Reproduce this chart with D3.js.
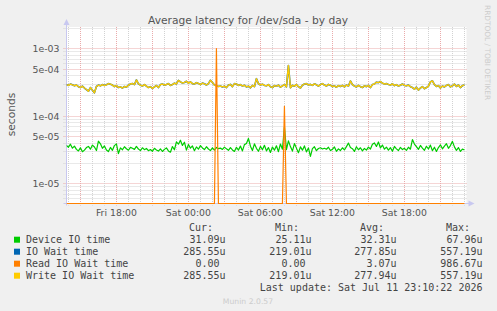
<!DOCTYPE html>
<html>
<head>
<meta charset="utf-8">
<script src="https://cdn.jsdelivr.net/npm/d3@7"></script>
<style>
  body { margin: 0; background: #f0f0f0; }
  svg { display: block; }
</style>
</head>
<body>
<div id="chart"></div>
<script>
/**
 * DATA
 * */
const lastUpdate = new Date(2026, 6, 11, 23, 10, 22);
const firstSample = new Date(2026, 6, 10, 13, 50, 0);
const stepMinutes = 10;

// microseconds, one value per 10 minutes
const deviceIO = [
  36.5, 34.2, 38.0, 33.1, 35.6, 31.8, 30.2, 33.5, 29.4, 31.0,
  33.8, 35.2, 32.0, 36.8, 34.5, 30.6, 42.0, 38.5, 33.0, 35.8,
  31.2, 29.5, 34.0, 30.8, 36.2, 38.4, 27.6, 33.5, 31.4, 34.8,
  32.5, 30.9, 34.1, 33.0, 31.8, 35.2, 32.2, 30.5, 33.6, 31.5,
  32.8, 30.4, 31.6, 29.8, 33.0, 31.2, 30.0, 32.4, 29.6, 31.8,
  33.4, 30.2, 28.9, 35.0, 31.4, 41.2, 38.0, 43.5, 36.4, 40.6,
  31.0, 37.5, 33.2, 35.8, 30.4, 34.6, 32.0, 36.2, 33.4, 31.6,
  34.8, 32.2, 30.5, 33.6, 31.0, 34.0, 32.6, 33.2, 31.8, 34.4,
  32.4, 30.8, 33.8, 31.2, 29.6, 34.2, 31.0, 35.6, 30.2, 37.4,
  39.0, 46.2, 35.5, 30.6, 38.4, 33.0, 29.8, 35.2, 31.4, 36.6,
  30.2, 33.8, 28.6, 34.5, 31.0, 36.0, 29.4, 38.2, 32.0, 67.96,
  31.5, 42.5, 35.0, 30.0, 38.8, 33.2, 28.4, 34.6, 31.0, 35.8,
  29.2, 33.4, 25.11, 32.6, 34.8, 30.4, 32.8, 33.6, 32.2, 33.0,
  32.0, 34.2, 30.6, 31.8, 34.6, 29.8, 32.4, 30.6, 33.6, 31.2,
  35.0, 39.4, 34.0, 32.6, 29.6, 34.8, 31.4, 33.6, 30.2, 32.8,
  31.0, 34.4, 32.2, 37.8, 39.6, 35.2, 41.0, 33.4, 36.8, 32.0,
  34.4, 31.0, 33.8, 29.8, 35.2, 32.4, 30.6, 34.0, 31.6, 33.0,
  30.8, 34.2, 32.0, 44.5, 38.2, 35.0, 31.8, 36.4, 33.2, 30.8,
  35.4, 32.2, 36.8, 30.4, 34.2, 29.6, 33.8, 37.2, 32.4, 35.6,
  38.6, 33.0, 36.2, 41.8, 34.6, 30.8, 33.8, 29.6, 32.2, 31.09
];

const ioWait = [
  290, 282, 295, 288, 279, 286, 270, 262, 275, 258,
  245, 231, 262, 240, 219, 272, 285, 278, 290, 281,
  288, 300, 294, 285, 271, 280, 262, 268, 258, 272,
  266, 284, 296, 301, 290, 340, 298, 284, 276, 290,
  275, 262, 270, 255, 268, 281, 262, 290, 296, 284,
  291, 300, 282, 290, 305, 296, 335, 318, 306, 312,
  325, 304, 318, 300, 296, 310, 302, 290, 305, 298,
  286, 300, 336, 312, 285, 280, 272, 276, 268, 275,
  262, 285, 292, 270, 300, 296, 282, 290, 276, 284,
  268, 275, 260, 282, 270, 355, 300, 286, 294, 282,
  278, 290, 270, 262, 280, 274, 285, 266, 278, 290,
  268, 557.19, 260, 283, 275, 290, 270, 258, 284, 296,
  300, 286, 292, 282, 298, 288, 275, 290, 300, 285,
  276, 292, 284, 270, 278, 265, 280, 272, 282, 268,
  286, 275, 328, 290, 276, 268, 282, 270, 262, 278,
  270, 282, 262, 290, 296, 315, 310, 322, 305, 296,
  300, 292, 285, 298, 280, 290, 276, 284, 296, 282,
  278, 285, 270, 262, 248, 266, 240, 258, 270, 252,
  262, 275, 318, 330, 290, 272, 280, 258, 276, 268,
  282, 290, 268, 278, 295, 272, 286, 262, 280, 285.55
];

// write wait follows IO wait (reads are nearly always zero)
const writeWait = ioWait;

// read IO wait is zero except for these samples: [sample index, microseconds]
const readWaitNonZero = [[75, 986.67], [109, 138]];

const seriesNames = ["Device IO time", "IO Wait time", "Read IO Wait time", "Write IO Wait time"];
const seriesColors = ["#00cc00", "#0066b3", "#ff8000", "#ffcc00"];
const legendCur = ["31.09u", "285.55u", "0.00 ", "285.55u"];
const legendMin = ["25.11u", "219.01u", "0.00 ", "219.01u"];
const legendAvg = ["32.31u", "277.85u", "3.07u", "277.94u"];
const legendMax = ["67.96u", "557.19u", "986.67u", "557.19u"];

/**
 * CONSTANTS
 * */
const width = 497, height = 311;
const plot = { left: 66.5, right: 466.5, top: 27, bottom: 203.5 };

const svg = d3.select("#chart").append("svg")
  .attr("width", width)
  .attr("height", height)
  .style("background", "#f0f0f0");

const x = d3.scaleTime()
  .domain([new Date(+lastUpdate - 120000 * 1000), lastUpdate])
  .range([plot.left, plot.right]);

const y = d3.scaleLog()
  .domain([1e-5, 1e-3])
  .range([183.3, 48.3]);

const timeOf = i => new Date(+firstSample + i * stepMinutes * 60000);
const yOf = v => v <= 0 ? plot.bottom : y(v * 1e-6);

// build read wait series
const readWait = deviceIO.map(() => 0);
readWaitNonZero.forEach(([i, v]) => { readWait[i] = v; });

// plot background
svg.append("rect")
  .attr("x", plot.left).attr("y", plot.top)
  .attr("width", plot.right - plot.left).attr("height", plot.bottom - plot.top)
  .attr("fill", "#ffffff");

const minorColor = "#d2d2d2", majorColor = "#eaaaaa";

// horizontal grid
const hGrid = [];
[1e-6, 1e-5, 1e-4, 1e-3].forEach(d => {
  for (let m = 1; m <= 9; m++) {
    const yy = y(m * d);
    if (yy >= plot.top && yy <= plot.bottom) hGrid.push({ v: m * d, m, exp: Math.round(Math.log10(d)), yy: Math.round(yy) + 0.5 });
  }
});

svg.append("g").selectAll("line")
  .data(hGrid)
  .join("line")
  .attr("x1", plot.left - 3).attr("x2", plot.right)
  .attr("y1", d => d.yy).attr("y2", d => d.yy)
  .attr("stroke", d => (d.m === 1 || d.m === 5) ? majorColor : minorColor)
  .attr("stroke-dasharray", "1,1");

svg.append("g").selectAll("text")
  .data(hGrid.filter(d => d.m === 1 || d.m === 5))
  .join("text")
  .attr("x", 59.5).attr("y", d => d.yy)
  .attr("dy", "0.35em")
  .attr("text-anchor", "end")
  .attr("font-family", "DejaVu Sans")
  .attr("font-size", 9.33)
  .attr("fill", "#555")
  .text(d => `${d.m}e-${String(-d.exp).padStart(2, "0")}`);

// vertical grid
const hours = d3.timeHour.every(1).range(x.domain()[0], x.domain()[1]);
svg.append("g").selectAll("line")
  .data(hours)
  .join("line")
  .attr("x1", d => Math.round(x(d)) + 0.5).attr("x2", d => Math.round(x(d)) + 0.5)
  .attr("y1", plot.top).attr("y2", plot.bottom + 2)
  .attr("stroke", d => d.getHours() % 3 === 0 ? majorColor : minorColor)
  .attr("stroke-dasharray", "1,1");

const fmt = d3.timeFormat("%a %H:%M");
svg.append("g").selectAll("text")
  .data(hours.filter(d => d.getHours() % 6 === 0))
  .join("text")
  .attr("x", d => x(d)).attr("y", 216)
  .attr("text-anchor", "middle")
  .attr("font-family", "DejaVu Sans")
  .attr("font-size", 9.33)
  .attr("fill", "#555")
  .text(d => fmt(d));

// axes
const axisColor = "#c8c8f0";
svg.append("line")
  .attr("x1", plot.left).attr("x2", plot.left)
  .attr("y1", plot.bottom + 2).attr("y2", 22)
  .attr("stroke", axisColor);
svg.append("path")
  .attr("d", `M${plot.left - 3},25 L${plot.left},19 L${plot.left + 3},25 Z`)
  .attr("fill", axisColor);
svg.append("line")
  .attr("x1", plot.left - 3).attr("x2", plot.right + 5)
  .attr("y1", plot.bottom).attr("y2", plot.bottom)
  .attr("stroke", axisColor);
svg.append("path")
  .attr("d", `M${plot.right + 2},${plot.bottom - 3} L${plot.right + 8},${plot.bottom} L${plot.right + 2},${plot.bottom + 3} Z`)
  .attr("fill", axisColor);

// data lines
svg.append("clipPath").attr("id", "clip")
  .append("rect")
  .attr("x", plot.left).attr("y", plot.top)
  .attr("width", plot.right - plot.left).attr("height", plot.bottom - plot.top + 1);

const line = d3.line()
  .x((d, i) => x(timeOf(i)))
  .y(d => yOf(d));

const lines = svg.append("g").attr("clip-path", "url(#clip)");
[
  { data: deviceIO, color: seriesColors[0], w: 1.2 },
  { data: ioWait, color: seriesColors[1], w: 1.6 },
  { data: writeWait, color: seriesColors[3], w: 1.4 },
  { data: readWait, color: seriesColors[2], w: 1.2 }
].forEach(s => {
  lines.append("path")
    .attr("d", line(s.data))
    .attr("fill", "none")
    .attr("stroke", s.color)
    .attr("stroke-width", s.w)
    .attr("stroke-linejoin", "round");
});

// title and labels
svg.append("text")
  .attr("x", 248).attr("y", 24)
  .attr("text-anchor", "middle")
  .attr("font-family", "DejaVu Sans")
  .attr("font-size", 10.67)
  .attr("fill", "#555")
  .text("Average latency for /dev/sda - by day");

svg.append("text")
  .attr("transform", "translate(15,114.5) rotate(-90)")
  .attr("text-anchor", "middle")
  .attr("font-family", "DejaVu Sans")
  .attr("font-size", 10.67)
  .attr("fill", "#555")
  .text("seconds");

svg.append("text")
  .attr("transform", "translate(485,5) rotate(90)")
  .attr("font-family", "DejaVu Sans")
  .attr("font-size", 7.4)
  .attr("fill", "#cccccc")
  .text("RRDTOOL / TOBI OETIKER");

// legend
const mono = "DejaVu Sans Mono";
const colEnds = [225.5, 311.5, 396.5, 482.5];
const headers = ["Cur:", "Min:", "Avg:", "Max:"];
const legend = svg.append("g")
  .attr("font-family", mono)
  .attr("font-size", 10)
  .attr("fill", "#444");

legend.selectAll("text.h")
  .data(headers)
  .join("text")
  .attr("class", "h")
  .attr("x", (d, i) => colEnds[i] - 12.5)
  .attr("y", 227.5).attr("dy", "0.35em")
  .attr("text-anchor", "end")
  .text(d => d);

const rows = seriesNames.map((n, i) => ({
  name: n, color: seriesColors[i],
  vals: [legendCur[i], legendMin[i], legendAvg[i], legendMax[i]]
}));

const row = legend.selectAll("g.row")
  .data(rows)
  .join("g")
  .attr("class", "row")
  .attr("transform", (d, i) => `translate(0,${239.7 + i * 12})`);

row.append("rect")
  .attr("x", 14).attr("y", -3)
  .attr("width", 6).attr("height", 6)
  .attr("fill", d => d.color);

row.append("text")
  .attr("x", 26).attr("dy", "0.35em")
  .text(d => d.name);

row.selectAll("text.v")
  .data(d => d.vals)
  .join("text")
  .attr("class", "v")
  .attr("x", (d, i) => colEnds[i])
  .attr("dy", "0.35em")
  .attr("text-anchor", "end")
  .style("white-space", "pre")
  .text(d => d);

legend.append("text")
  .attr("x", colEnds[3]).attr("y", 287.7).attr("dy", "0.35em")
  .attr("text-anchor", "end")
  .text("Last update: Sat Jul 11 23:10:22 2026");

svg.append("text")
  .attr("x", 248).attr("y", 301).attr("dy", "0.35em")
  .attr("text-anchor", "middle")
  .attr("font-family", "DejaVu Sans")
  .attr("font-size", 7.7)
  .attr("fill", "#cccccc")
  .text("Munin 2.0.57");
</script>
</body>
</html>
